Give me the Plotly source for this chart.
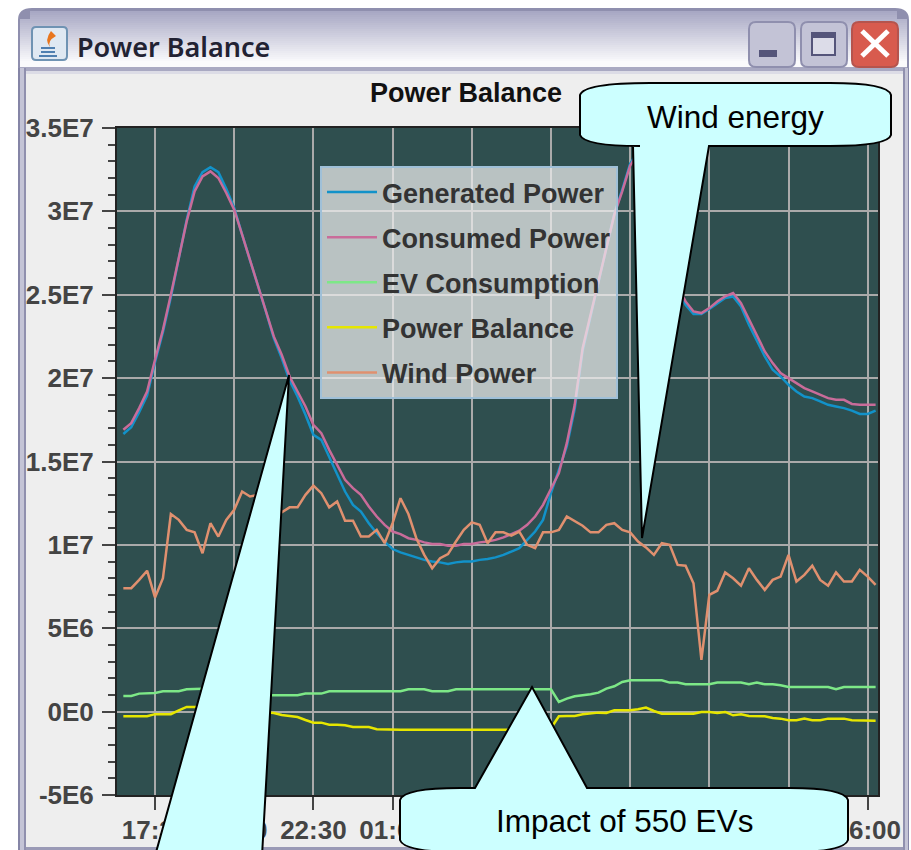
import plotly.graph_objects as go

# ---------- data (values in millions, one point every 15 minutes from 16:30) ----------
times = [f"{(16 + (30 + 15 * i) // 60) % 24:02d}:{(30 + 15 * i) % 60:02d}" for i in range(96)]
tick_labels = ["17:30", "20:00", "22:30", "01:00", "03:30", "06:00", "08:30", "11:00", "13:30", "16:00"]
y_ticks = [35e6, 30e6, 25e6, 20e6, 15e6, 10e6, 5e6, 0, -5e6]
y_tick_labels = ["3.5E7", "3E7", "2.5E7", "2E7", "1.5E7", "1E7", "5E6", "0E0", "-5E6"]

consumed = [16.9, 17.3, 18.2, 19.2, 21.1, 22.9, 25.0, 27.2, 29.4, 31.2, 32.1, 32.4, 32.0, 31.1, 30.1, 28.6,
            27.1, 25.5, 24.0, 22.5, 21.4, 20.1, 19.2, 18.3, 17.2, 16.7, 15.7, 14.8, 13.9, 13.4, 13.0, 12.3,
            11.7, 11.2, 10.8, 10.65, 10.4, 10.3, 10.15, 10.05, 10.05, 9.95, 9.95, 10.05, 10.05, 10.15, 10.2, 10.3,
            10.45, 10.65, 10.85, 11.2, 11.7, 12.4, 13.4, 14.3, 16.1, 18.4, 21.8, 23.8, 25.8, 27.8, 29.8, 31.2,
            32.75, 33.5, 33.4, 32.0, 30.0, 28.0, 25.5, 24.6, 24.0, 23.9, 24.2, 24.6, 24.9, 25.1, 24.5, 23.5,
            22.5, 21.6, 20.9, 20.3, 20.0, 19.7, 19.4, 19.2, 19.0, 18.8, 18.7, 18.7, 18.45, 18.4, 18.4, 18.4]
generated = [16.65, 17.05, 17.95, 18.95, 20.95, 22.75, 24.85, 27.15, 29.5, 31.5, 32.35, 32.65, 32.35, 31.35, 30.2, 28.6,
             27.1, 25.5, 24.0, 22.4, 21.2, 19.85, 18.9, 17.8, 16.6, 16.3, 15.3, 14.2, 13.2, 12.4, 12.0, 11.3,
             10.7, 10.2, 9.75, 9.55, 9.4, 9.25, 9.1, 9.0, 8.95, 8.85, 8.95, 9.0, 9.0, 9.1, 9.15, 9.25,
             9.4, 9.6, 9.8, 10.3, 10.8, 11.5, 13.1, 14.5, 15.9, 18.15, 21.65, 23.7, 25.75, 27.75, 29.85, 31.3,
             32.85, 33.6, 33.65, 32.05, 29.9, 27.9, 25.4, 24.4, 23.85, 23.85, 24.15, 24.5, 24.8, 24.9, 24.3, 23.2,
             22.2, 21.3, 20.5, 20.1, 19.6, 19.2, 18.9, 18.8, 18.6, 18.4, 18.3, 18.2, 18.05, 17.85, 17.85, 18.05]
ev_consumption = [0.94, 0.94, 1.08, 1.08, 1.12, 1.22, 1.22, 1.22, 1.34, 1.34, 1.34, 1.38, 1.4, 1.4, 1.38, 1.3,
                  1.2, 1.1, 1.0, 0.98, 0.98, 0.98, 0.98, 1.08, 1.08, 1.08, 1.22, 1.22, 1.22, 1.22, 1.22, 1.22,
                  1.22, 1.22, 1.22, 1.22, 1.34, 1.34, 1.34, 1.22, 1.22, 1.22, 1.34, 1.34, 1.34, 1.34, 1.34, 1.34,
                  1.34, 1.34, 1.34, 1.34, 1.34, 1.34, 1.34, 0.58, 0.78, 0.92, 0.96, 1.04, 1.14, 1.38, 1.52, 1.78,
                  1.88, 1.88, 1.88, 1.88, 1.88, 1.74, 1.74, 1.64, 1.64, 1.64, 1.64, 1.74, 1.74, 1.74, 1.74, 1.64,
                  1.74, 1.64, 1.64, 1.58, 1.48, 1.48, 1.48, 1.48, 1.48, 1.48, 1.34, 1.48, 1.48, 1.48, 1.48, 1.48]
power_balance = [-0.28, -0.28, -0.28, -0.28, -0.15, -0.15, -0.15, 0.08, 0.28, 0.28, 0.28, 0.3, 0.3, 0.3, 0.2, 0.1,
                 0.05, 0.0, -0.05, -0.08, -0.2, -0.28, -0.32, -0.5, -0.66, -0.66, -0.78, -0.78, -0.82, -0.92, -0.92, -0.92,
                 -1.06, -1.08, -1.08, -1.08, -1.08, -1.08, -1.08, -1.08, -1.08, -1.08, -1.08, -1.08, -1.08, -1.08, -1.08, -1.08,
                 -1.08, -1.08, -1.08, -1.08, -1.08, -1.08, -1.0, -0.28, -0.26, -0.26, -0.16, -0.12, -0.06, -0.08, 0.08, 0.08,
                 0.08, 0.14, 0.24, 0.04, -0.12, -0.12, -0.12, -0.12, -0.12, -0.02, -0.02, -0.08, -0.02, -0.22, -0.16, -0.26,
                 -0.26, -0.28, -0.38, -0.42, -0.52, -0.52, -0.42, -0.52, -0.52, -0.42, -0.42, -0.42, -0.52, -0.54, -0.54, -0.54]
wind_power = [7.4, 7.4, 7.9, 8.45, 6.85, 8.0, 11.85, 11.5, 10.9, 10.75, 9.5, 11.3, 10.5, 11.5, 12.1, 13.2,
              12.9, 13.0, 12.9, 12.6, 11.95, 12.25, 12.25, 13.0, 13.55, 13.1, 12.25, 12.6, 11.45, 11.45, 10.5, 10.5,
              10.9, 10.1, 11.3, 12.8, 11.85, 10.4, 9.4, 8.6, 9.2, 9.45, 10.2, 10.9, 11.35, 11.2, 10.1, 10.75,
              10.75, 10.55, 10.8, 10.0, 9.8, 10.75, 10.75, 10.9, 11.7, 11.4, 11.15, 10.75, 10.75, 11.2, 11.3, 10.9,
              10.75, 10.2, 9.85, 9.4, 10.1, 10.0, 8.8, 8.75, 7.7, 3.1, 7.0, 7.25, 8.35, 8.0, 7.55, 8.6,
              7.9, 7.3, 7.9, 8.1, 9.4, 7.8, 8.2, 8.75, 7.9, 7.55, 8.35, 7.8, 7.8, 8.5, 8.1, 7.6]

series = [("Generated Power", generated, "#1292c9"),
          ("Consumed Power", consumed, "#c96c9a"),
          ("EV Consumption", ev_consumption, "#7de887"),
          ("Power Balance", power_balance, "#e6e600"),
          ("Wind Power", wind_power, "#e0906f")]

# ---------- page geometry ----------
W, H = 911, 850
L, R, T, B = 117, 878, 128, 795
def px(x): return (x - L) / (R - L)
def py(y): return (B - y) / (B - T)
def path(cmds):
    out = []
    for c in cmds:
        if isinstance(c, str):
            out.append(c)
        else:
            out.append(f"{px(c[0]):.5f},{py(c[1]):.5f}")
    return " ".join(out)

shapes = []
def rect(x0, y0, x1, y1, fill, line=None, lw=0):
    shapes.append(dict(type="rect", xref="paper", yref="paper", x0=px(x0), x1=px(x1), y0=py(y0), y1=py(y1),
                       fillcolor=fill, line=dict(color=line or fill, width=lw), layer="above"))
def pth(cmds, fill=None, line=None, lw=0):
    d = dict(type="path", xref="paper", yref="paper", path=path(cmds), layer="above", line=dict(width=lw))
    if fill: d["fillcolor"] = fill
    if line: d["line"]["color"] = line
    shapes.append(d)
def rrect(x0, y0, x1, y1, r, fill, line=None, lw=0):
    pth(["M", (x0 + r, y0), "L", (x1 - r, y0), "Q", (x1, y0), (x1, y0 + r), "L", (x1, y1 - r), "Q", (x1, y1), (x1 - r, y1),
         "L", (x0 + r, y1), "Q", (x0, y1), (x0, y1 - r), "L", (x0, y0 + r), "Q", (x0, y0), (x0 + r, y0), "Z"], fill, line, lw)

# outside of the window
rect(0, 0, W, 74, "#ffffff")
rect(0, 0, 18, H, "#ffffff")
rect(909, 0, W, H, "#ffffff")
# title bar
pth(["M", (18, 74), "L", (18, 20), "Q", (18, 8), (32, 8), "L", (895, 8), "Q", (909, 8), (909, 20), "L", (909, 74), "Z"], "#8f8fae")
def mix(a, b, t):
    return "#" + "".join(f"{round(a[k] + (b[k] - a[k]) * t):02x}" for k in range(3))
for y in range(11, 68, 2):
    t = (y - 11) / 50
    c = mix((168, 168, 196), (250, 250, 252), min(t, 1))
    rect(20 if y > 18 else 30, y, 907 if y > 18 else 897, y + 2, c)
rect(20, 67, 907, 71, "#a9a9c2")
rect(26, 71, 903, 74, "#dcdce6")
# side frames
for x0, x1, c in [(18, 20, "#8585a6"), (20, 24, "#c4c4d6"), (24, 26, "#9090ae"),
                  (903, 905, "#9090ae"), (905, 908, "#c4c4d6"), (908, 909, "#8585a6")]:
    rect(x0, 68, x1, H, c)
rect(26, 847, 903, H, "#9a9ab6")

# java icon
rrect(32, 27, 67, 60, 4, "#dfe8f2", "#6f93b3", 2)
pth(["M", (51, 31), "Q", (44, 40), (50, 47), "Q", (47, 41), (56, 36), "Z"], "#e8761e")
for y, a, b in [(48, 41, 55), (52, 41, 55), (56, 39, 57)]:
    shapes.append(dict(type="line", xref="paper", yref="paper", x0=px(a), x1=px(b), y0=py(y), y1=py(y),
                       line=dict(color="#4f7fb0", width=2), layer="above"))

# window buttons
rrect(749, 22, 795, 67, 7, "#c3c3d6", "#8f8fae", 2)
rect(759, 50, 777, 57, "#55557a")
rrect(801, 22, 847, 67, 7, "#c3c3d6", "#8f8fae", 2)
rect(812, 33, 835, 55, "#dcdce8", "#55557a", 2)
rect(812, 33, 835, 38, "#55557a")
rrect(852, 22, 898, 67, 7, "#d85b4e", "#b5544d", 2)
for a, b in [((862, 31), (888, 56)), ((888, 31), (862, 56))]:
    shapes.append(dict(type="line", xref="paper", yref="paper", x0=px(a[0]), y0=py(a[1]), x1=px(b[0]), y1=py(b[1]),
                       line=dict(color="#ffffff", width=5), layer="above"))

# speech callouts
CYAN = "#ccffff"
pth(["M", (289, 375), "L", (262, 856), "L", (155, 856), "Z"], CYAN, "#000000", 2)
pth(["M", (580, 95), "Q", (584, 83), (650, 83), "L", (830, 83), "Q", (888, 83), (891, 95), "L", (891, 135),
     "Q", (888, 146), (830, 146), "L", (709, 146), "L", (642, 538), "L", (633, 146), "L", (640, 146),
     "Q", (584, 146), (580, 135), "Z"], CYAN, "#000000", 2)
pth(["M", (400, 800), "Q", (404, 788), (460, 788), "L", (475, 788), "L", (532, 687), "L", (587, 788), "L", (790, 788),
     "Q", (844, 788), (848, 800), "L", (848, 840), "Q", (844, 852), (790, 852), "L", (460, 852), "Q", (404, 852), (400, 840), "Z"],
    CYAN, "#000000", 2)

annotations = [
    dict(text="Power Balance", x=px(75), y=py(46), xanchor="left", yanchor="middle", xref="paper", yref="paper", showarrow=False,
         font=dict(family="Noto Sans", size=27, color="#222233", weight=600)),
    dict(text="Wind energy", x=px(735), y=py(117), xanchor="center", yanchor="middle", xref="paper", yref="paper", showarrow=False,
         font=dict(family="Liberation Sans", size=31.5, color="#000000")),
    dict(text="Impact of 550 EVs", x=px(624), y=py(821), xanchor="center", yanchor="middle", xref="paper", yref="paper", showarrow=False,
         font=dict(family="Liberation Sans", size=31.5, color="#000000")),
]

fig = go.Figure()
for i, (name, vals, color) in enumerate(series):
    fig.add_trace(go.Scatter(x=times, y=[v * 1e6 for v in vals], mode="lines", name=name, legendgroup=name,
                             line=dict(color=color, width=2.5), hoverinfo="skip"))

axis_font = dict(family="Liberation Sans", size=26, color="#444444", weight=700)
fig.update_layout(
    width=W, height=H, autosize=False,
    margin=dict(l=L, r=W - R, t=T, b=H - B, pad=0),
    paper_bgcolor="#eeeeee", plot_bgcolor="#2f4f4f",
    title=dict(text="Power Balance", x=466 / W, xanchor="center", xref="container", y=1 - 93 / H, yanchor="middle", yref="container",
               font=dict(family="Liberation Sans", size=27, color="#111111", weight=700)),
    showlegend=True,
    legend=dict(x=px(320), y=py(166), xanchor="left", yanchor="top", bgcolor="rgba(238,238,238,0.72)",
                bordercolor="#9fc0d8", borderwidth=2, itemwidth=50, tracegroupgap=7, itemclick=False,
                font=dict(family="Liberation Sans", size=27, color="#333333", weight=700),
                entrywidth=256, entrywidthmode="pixels"),
    xaxis=dict(type="category", categoryorder="array", categoryarray=times, range=[-0.8, 95.3], automargin=False,
               tickmode="array", tickvals=tick_labels, ticktext=tick_labels, ticklabelstandoff=-2,
               ticks="outside", ticklen=13, tickwidth=2, tickcolor="#444444", tickfont=axis_font, tickangle=0,
               showgrid=True, gridcolor="#aaaaaa", gridwidth=2, zeroline=False,
               showline=True, linecolor="#222222", linewidth=2, mirror=True),
    yaxis=dict(range=[-5e6, 35e6], automargin=False, tickmode="array", tickvals=y_ticks, ticktext=y_tick_labels,
               ticklabelstandoff=3,
               ticks="outside", ticklen=13, tickwidth=2, tickcolor="#444444", tickfont=axis_font,
               minor=dict(tick0=0, dtick=1e6, ticks="outside", ticklen=7, tickwidth=2, tickcolor="#444444", showgrid=False),
               showgrid=True, gridcolor="#aaaaaa", gridwidth=2, zeroline=False,
               showline=True, linecolor="#222222", linewidth=2, mirror=True),
    shapes=shapes, annotations=annotations,
)
fig.write_html("out.html", config=dict(displayModeBar=False),
               post_script="document.documentElement.style.margin='0';document.documentElement.style.overflow='hidden';"
                           "document.body.style.margin='0';document.body.style.overflow='hidden';")
